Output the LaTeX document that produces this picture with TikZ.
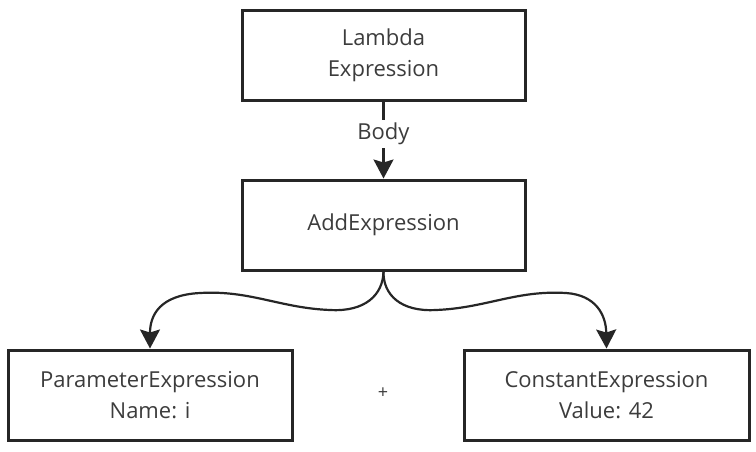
\documentclass[tikz,border=0pt]{standalone}
\usepackage{fontspec}
\setmainfont{Open Sans}
\usetikzlibrary{arrows.meta}
\definecolor{ink}{HTML}{262626}
\begin{document}
\begin{tikzpicture}[x=1pt,y=-1pt,
  box/.style={draw=ink, line width=3pt, minimum height=90pt, align=center, font=\fontsize{22}{31}\selectfont, text=ink!90, inner sep=0pt},
  conn/.style={draw=ink, line width=2.2pt, -{Stealth[length=19pt,width=20pt,inset=3pt]}},
  lbl/.style={font=\fontsize{22}{26}\selectfont, text=ink!90, fill=white, inner sep=3pt}]
\useasboundingbox (0,0) rectangle (756,451);
\node[box, minimum width=283pt] (lam) at (383.5,55) {Lambda\\Expression};
\node[box, minimum width=283pt] (add) at (383.5,225) {AddExpression};
\node[box, minimum width=284pt] (par) at (150,395) {ParameterExpression\\Name: i};
\node[box, minimum width=285pt] (con) at (606.5,395) {ConstantExpression\\Value: 42};
\node[font=\fontsize{18}{20}\selectfont, text=ink!90] (plus) at (383,393) {+};
\draw[conn] (lam) -- node[lbl, pos=0.42] {Body} (add);
\draw[conn] (add.south) .. controls (383,295) and (365,312) .. (330,310)
  .. controls (280,308) and (250,290) .. (200,293)
  .. controls (160,295) and (150,315) .. (par.north);
\draw[conn] (add.south) .. controls (383,295) and (401,312) .. (436,310)
  .. controls (486,308) and (516,290) .. (566,293)
  .. controls (596,295) and (606,315) .. (con.north);
\end{tikzpicture}
\end{document}
